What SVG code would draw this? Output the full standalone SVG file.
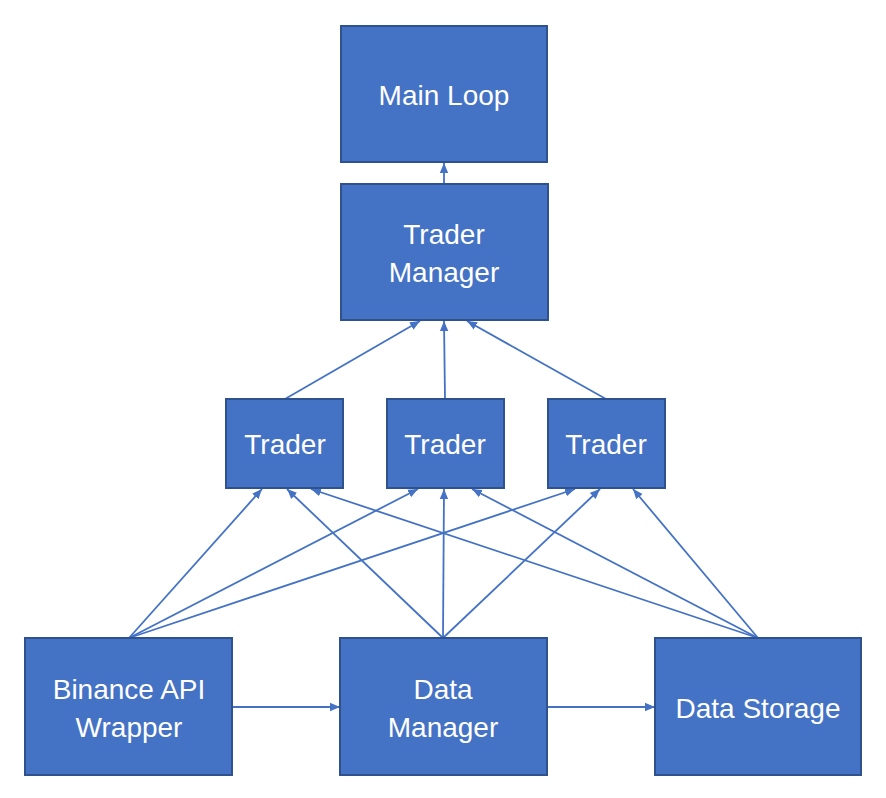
<svg xmlns="http://www.w3.org/2000/svg" width="886" height="798" viewBox="0 0 886 798">
<style>
.box{fill:#4472C4;stroke:#2F528F;stroke-width:2}
.lbl{fill:#ffffff;font-family:"Liberation Sans","Open Sans",sans-serif;font-size:28px;text-anchor:middle}
.con{fill:none;stroke:#4472C4;stroke-width:1.8;marker-end:url(#ah)}
</style>
<defs>
<marker id="ah" markerUnits="userSpaceOnUse" markerWidth="10" markerHeight="10" viewBox="0 0 10 10" refX="10" refY="5" orient="auto">
<path d="M0,0.8 L10,5 L0,9.2 Z" fill="#4472C4"/>
</marker>
</defs>
<rect width="886" height="798" fill="#ffffff"/>
<g id="connectors">
<line class="con" x1="444" y1="184" x2="444" y2="163"/>
<line class="con" x1="285" y1="399" x2="420" y2="321"/>
<line class="con" x1="445" y1="399" x2="444" y2="321"/>
<line class="con" x1="606" y1="399" x2="467" y2="321"/>
<line class="con" x1="129" y1="638" x2="262" y2="489"/>
<line class="con" x1="129" y1="638" x2="418" y2="489"/>
<line class="con" x1="129" y1="638" x2="575" y2="489"/>
<line class="con" x1="443" y1="638" x2="287" y2="489"/>
<line class="con" x1="443" y1="638" x2="444" y2="489"/>
<line class="con" x1="443" y1="638" x2="600" y2="489"/>
<line class="con" x1="758" y1="638" x2="311" y2="489"/>
<line class="con" x1="758" y1="638" x2="472" y2="489"/>
<line class="con" x1="758" y1="638" x2="633" y2="489"/>
<line class="con" x1="233" y1="707" x2="340" y2="707"/>
<line class="con" x1="548" y1="707" x2="655" y2="707"/>
</g>
<g id="main-loop">
<rect class="box" x="341" y="26" width="206" height="136"/>
<text class="lbl" x="444" y="105">Main Loop</text>
</g>
<g id="trader-manager">
<rect class="box" x="341" y="184" width="207" height="136"/>
<text class="lbl" x="444" y="244">Trader</text>
<text class="lbl" x="444" y="282">Manager</text>
</g>
<g id="trader-1">
<rect class="box" x="226" y="399" width="117" height="89"/>
<text class="lbl" x="285" y="454">Trader</text>
</g>
<g id="trader-2">
<rect class="box" x="387" y="399" width="117" height="89"/>
<text class="lbl" x="445" y="454">Trader</text>
</g>
<g id="trader-3">
<rect class="box" x="548" y="399" width="117" height="89"/>
<text class="lbl" x="606" y="454">Trader</text>
</g>
<g id="binance-api-wrapper">
<rect class="box" x="25" y="638" width="207" height="137"/>
<text class="lbl" x="129" y="699">Binance API</text>
<text class="lbl" x="129" y="737">Wrapper</text>
</g>
<g id="data-manager">
<rect class="box" x="340" y="638" width="207" height="137"/>
<text class="lbl" x="443" y="699">Data</text>
<text class="lbl" x="443" y="737">Manager</text>
</g>
<g id="data-storage">
<rect class="box" x="655" y="638" width="206" height="137"/>
<text class="lbl" x="758" y="718">Data Storage</text>
</g>
</svg>
